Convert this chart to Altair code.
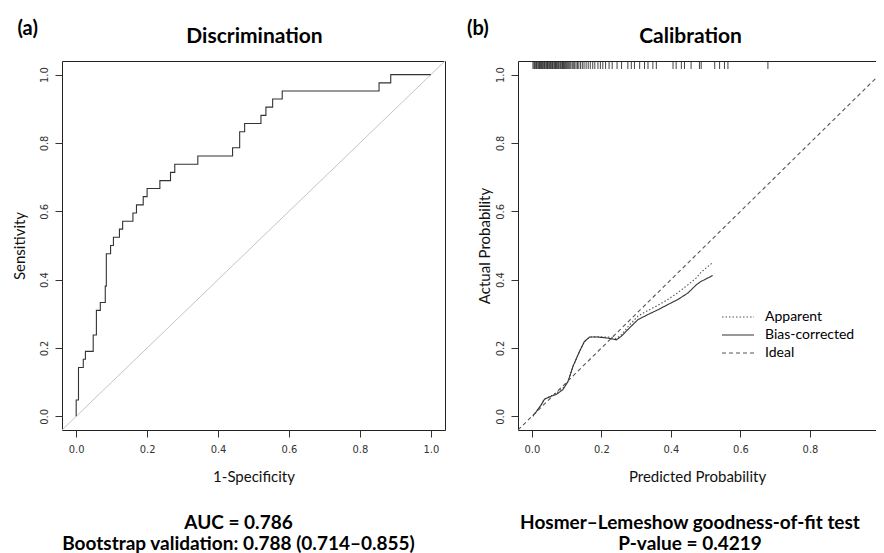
import altair as alt
import pandas as pd

# ---------------- data ----------------
# (a) ROC curve corner points (step-after)
roc_fpr = [0.0, 0.0, 0.0065, 0.020, 0.026, 0.048, 0.057, 0.068, 0.082, 0.085,
           0.097, 0.105, 0.122, 0.131, 0.160, 0.170, 0.189, 0.200, 0.236, 0.266,
           0.278, 0.343, 0.441, 0.461, 0.475, 0.521, 0.535, 0.554, 0.581, 0.854,
           0.887, 1.0]
roc_tpr = [0.0, 0.048, 0.143, 0.167, 0.190, 0.238, 0.310, 0.333, 0.381, 0.476,
           0.500, 0.524, 0.548, 0.571, 0.595, 0.619, 0.643, 0.667, 0.690, 0.714,
           0.738, 0.762, 0.786, 0.833, 0.857, 0.881, 0.905, 0.929, 0.952, 0.976,
           1.0, 1.0]
reference_line = [-0.04, 1.04]

# (b) calibration curves
cal_pred = [0.003, 0.012, 0.027, 0.036, 0.051, 0.070, 0.089, 0.104, 0.118, 0.137,
            0.151, 0.166, 0.190, 0.219, 0.243, 0.257, 0.281, 0.305, 0.334, 0.363,
            0.391, 0.420, 0.449, 0.473, 0.487, 0.520]
apparent = [0.000, 0.012, 0.035, 0.050, 0.058, 0.068, 0.082, 0.102, 0.145, 0.190,
            0.218, 0.232, 0.233, 0.232, 0.228, 0.238, 0.268, 0.293, 0.310, 0.325,
            0.342, 0.362, 0.385, 0.405, 0.422, 0.450]
bias_corrected = [0.002, 0.013, 0.034, 0.050, 0.057, 0.064, 0.078, 0.102, 0.146, 0.190,
                  0.219, 0.232, 0.232, 0.229, 0.224, 0.234, 0.259, 0.283, 0.298, 0.312,
                  0.327, 0.342, 0.361, 0.385, 0.395, 0.412]
ideal = [-0.04, 1.04]
series_names = ["Apparent", "Bias-corrected", "Ideal"]

# rug of predicted probabilities (top of panel b)
rug_pred = [0.003, 0.006, 0.008, 0.011, 0.013, 0.015, 0.018, 0.020, 0.022, 0.025,
            0.027, 0.029, 0.031, 0.034, 0.036, 0.038, 0.041, 0.043, 0.045, 0.047,
            0.050, 0.052, 0.054, 0.057, 0.059, 0.061, 0.064, 0.066, 0.068, 0.071,
            0.073, 0.076, 0.078, 0.081, 0.083, 0.086, 0.088, 0.091, 0.094, 0.097,
            0.100, 0.103, 0.106, 0.109, 0.112, 0.116, 0.119, 0.123, 0.127, 0.131,
            0.135, 0.140, 0.145, 0.150, 0.156, 0.162, 0.168, 0.175, 0.181, 0.190,
            0.197, 0.204, 0.212, 0.222, 0.231, 0.245, 0.258, 0.276, 0.286, 0.295,
            0.310, 0.324, 0.334, 0.348, 0.358, 0.406, 0.415, 0.430, 0.439, 0.458,
            0.482, 0.487, 0.526, 0.540, 0.554, 0.564, 0.679]

tick_values = [0.0, 0.2, 0.4, 0.6, 0.8, 1.0]
axis_domain = [-0.04, 1.04]
axis_domain_b = [-0.04, 0.99]   # right panel is cut at the picture's edge

# ---------------- styling ----------------
LABEL_FONT = "Liberation Sans Narrow, DejaVu Sans Condensed, Liberation Sans, sans-serif"
TEXT_FONT = "Lato, Open Sans, sans-serif"
INK = "#333333"
FRAME = "#222222"


def x_axis(title, domain=False):
    return alt.Axis(title=title, values=tick_values, format=".1f", grid=False,
                    domain=domain, domainColor=FRAME, domainWidth=1,
                    tickSize=7, tickColor=INK, tickWidth=1,
                    labelFont=LABEL_FONT, labelFontSize=11, labelColor=INK,
                    labelPadding=6, labelFlush=False, labelOverlap=False,
                    titleFont=TEXT_FONT, titleFontSize=15, titleFontWeight="normal",
                    titleColor="#111111", titlePadding=15)


def y_axis(title, title_pad, domain=False):
    return alt.Axis(title=title, values=tick_values, format=".1f", grid=False,
                    domain=domain, domainColor=FRAME, domainWidth=1,
                    tickSize=7, tickColor=INK, tickWidth=1,
                    labelFont=LABEL_FONT, labelFontSize=11, labelColor=INK,
                    labelAngle=270, labelPadding=6, labelFlush=False, labelOverlap=False,
                    titleFont=TEXT_FONT, titleFontSize=15, titleFontWeight="normal",
                    titleColor="#111111", titlePadding=title_pad)


def scale(dom=axis_domain):
    return alt.Scale(domain=dom, nice=False, zero=False)


def big_title(text, **kw):
    return alt.TitleParams(text, font=TEXT_FONT, fontWeight="bold", color="#000000", **kw)


# ---------------- panel (a) ----------------
roc_df = pd.DataFrame({"fpr": roc_fpr, "tpr": roc_tpr, "idx": list(range(len(roc_fpr)))})
diag_df = pd.DataFrame({"v": reference_line})

diag = alt.Chart(diag_df).mark_line(color="#c4c4c4", strokeWidth=1, clip=True).encode(
    x=alt.X("v:Q", scale=scale(), axis=x_axis("1-Specificity")),
    y=alt.Y("v:Q", scale=scale(), axis=y_axis("Sensitivity", 11)),
)
roc = alt.Chart(roc_df).mark_line(interpolate="step-after", color=INK, strokeWidth=1.1,
                                  clip=True).encode(
    x=alt.X("fpr:Q", scale=scale()),
    y=alt.Y("tpr:Q", scale=scale()),
    order="idx:Q",
)

left_plot = alt.layer(diag, roc).properties(
    width=383, height=369,
    title=big_title(["AUC = 0.786", "Bootstrap validation: 0.788 (0.714\u20130.855)"],
                    orient="bottom", anchor="middle", dx=-15, fontSize=19,
                    lineHeight=21, offset=30),
)
left_mid = alt.vconcat(left_plot, title=big_title(
    "Discrimination", anchor="middle", fontSize=21, dx=26, offset=14))
left_col = alt.vconcat(left_mid, title=big_title(
    "(a)", anchor="start", fontSize=20, dx=6, dy=11, offset=-2))

# ---------------- panel (b) ----------------
rows = []
for p, a in zip(cal_pred, apparent):
    rows.append({"pred": p, "actual": a, "series": series_names[0], "k": p})
for p, b in zip(cal_pred, bias_corrected):
    rows.append({"pred": p, "actual": b, "series": series_names[1], "k": p})
for v in ideal:
    rows.append({"pred": v, "actual": v, "series": series_names[2], "k": v})
cal_df = pd.DataFrame(rows)
rug_df = pd.DataFrame({"pred": rug_pred})

legend = alt.Legend(title=None, orient="none", legendX=213, legendY=249,
                    symbolType="M-3.2,0H3.2", symbolSize=100, symbolStrokeWidth=1.2,
                    labelFont=TEXT_FONT, labelFontSize=14, labelColor="#000000",
                    labelOffset=20, rowPadding=4, padding=0)

curves = alt.Chart(cal_df).mark_line(strokeWidth=1.1, clip=True).encode(
    x=alt.X("pred:Q", scale=scale(axis_domain_b),
            axis=x_axis("Predicted Probability", domain=True)),
    y=alt.Y("actual:Q", scale=scale(), axis=y_axis("Actual Probability", 2, domain=True)),
    color=alt.Color("series:N", scale=alt.Scale(domain=series_names,
                    range=["#555555", "#333333", "#555555"]), legend=legend),
    strokeDash=alt.StrokeDash("series:N", scale=alt.Scale(domain=series_names,
                              range=[[1.5, 2], [1, 0], [4, 3]]), legend=legend),
    order="k:Q",
)
rug = alt.Chart(rug_df).mark_tick(color="#222222", thickness=1, size=7,
                                  opacity=0.85, clip=True).encode(
    x=alt.X("pred:Q", scale=scale(axis_domain_b), axis=None),
    y=alt.value(4.5),
)
top_frame = alt.Chart(diag_df).mark_point(opacity=0, clip=True).encode(
    x=alt.X("v:Q", scale=scale(axis_domain_b),
            axis=alt.Axis(orient="top", domain=True, domainColor=FRAME, domainWidth=1,
                          ticks=False, labels=False, grid=False, title=None)),
    y=alt.value(0),
)

right_plot = alt.layer(curves, rug, top_frame).resolve_axis(x="independent").properties(
    width=358, height=369,
    view=alt.ViewBackground(stroke=None),
    title=big_title(["Hosmer\u2013Lemeshow goodness-of-fit test", "P-value = 0.4219"],
                    orient="bottom", anchor="middle", dx=-7, fontSize=19,
                    lineHeight=21, offset=30),
)
right_mid = alt.vconcat(right_plot, title=big_title(
    "Calibration", anchor="middle", fontSize=21, dx=14, offset=14)).resolve_legend(
    color="independent", strokeDash="independent")
right_col = alt.vconcat(right_mid, title=big_title(
    "(b)", anchor="start", fontSize=20, dx=-10, dy=11, offset=-2)).resolve_legend(
    color="independent", strokeDash="independent")

chart = alt.hconcat(left_col, right_col, spacing=21).resolve_scale(
    x="independent", y="independent").resolve_legend(
    color="independent", strokeDash="independent").properties(
    padding={"left": 3, "top": 10, "right": 0, "bottom": 0},
    background="white",
).configure_view(stroke=FRAME, strokeWidth=1)

chart.save("out.html", embed_options={"renderer": "svg", "actions": False})
